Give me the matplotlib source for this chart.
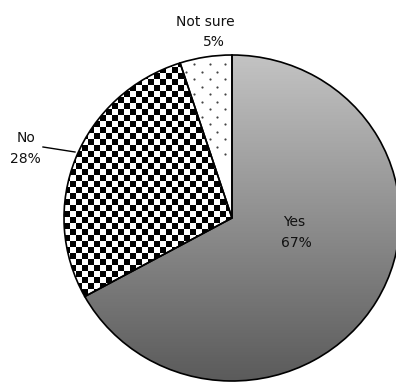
import numpy as np
import matplotlib
matplotlib.use("Agg")
import matplotlib.pyplot as plt
from matplotlib.colors import LinearSegmentedColormap

# Data
labels = ["Yes", "No", "Not sure"]
shares = [67, 28, 5]

W, H = 396, 383
# pie ellipse in pixels (center, radii)
cx, cy, rx, ry = 232, 218, 168, 163

fig = plt.figure(figsize=(W / 100, H / 100), dpi=100)
ax = fig.add_axes([(cx - rx) / W, (H - cy - ry) / H, 2 * rx / W, 2 * ry / H])

wedges, _ = ax.pie(shares, startangle=90, counterclock=False, radius=1,
                   colors=["none", "none", "none"],
                   wedgeprops=dict(edgecolor="black", linewidth=1.2, zorder=5))
for w in wedges:
    w.set_clip_on(False)

# Yes: vertical grey gradient
grad = np.linspace(0, 1, 300).reshape(-1, 1)
cmap = LinearSegmentedColormap.from_list("g", ["#c3c3c3", "#5b5b5b"])
im = ax.imshow(grad, extent=(-1, 1, -1, 1), cmap=cmap, aspect="auto",
               origin="upper", zorder=1)
im.set_clip_path(wedges[0])

# No: checkerboard, 6px cells
ii, jj = np.mgrid[0:2 * ry, 0:2 * rx]
checker = ((ii // 6 + jj // 6) % 2).astype(float)
im2 = ax.imshow(checker, extent=(-1, 1, -1, 1), cmap="gray", aspect="auto",
                interpolation="nearest", origin="upper", zorder=1)
im2.set_clip_path(wedges[1])

# Not sure: small dots on white, staggered grid
pts_x, pts_y = [], []
for r, py in enumerate(np.arange(64, 160, 7.5)):
    start = 225 if r % 2 == 0 else 217
    for px in np.arange(start, 180, -15.5):
        pts_x.append((px - cx) / rx)
        pts_y.append((cy - py) / ry)
sc = ax.scatter(pts_x, pts_y, s=2.5, color="#444444", zorder=2, linewidths=0)
sc.set_clip_path(wedges[2])

ax.set_xlim(-1, 1)
ax.set_ylim(-1, 1)
ax.set_aspect("auto")
ax.axis("off")

# labels
font = dict(fontsize=10, color="#111111", ha="center", va="center",
            family="DejaVu Sans")
fig.text(205 / W, 1 - 22 / H, "Not sure", **font)
fig.text(214 / W, 1 - 42 / H, "5%", **font)
fig.text(26 / W, 1 - 138 / H, "No", **font)
fig.text(25 / W, 1 - 159 / H, "28%", **font)
fig.text(294 / W, 1 - 222 / H, "Yes", **font)
fig.text(296 / W, 1 - 243 / H, "67%", **font)

fig.add_artist(plt.Line2D([43 / W, 75 / W], [1 - 147 / H, 1 - 152 / H],
                          color="black", linewidth=1))

fig.savefig("out.png", dpi=100, facecolor="white")
